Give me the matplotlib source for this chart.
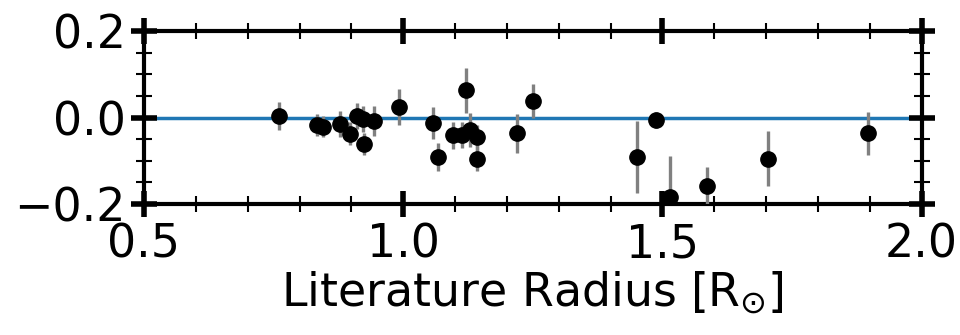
import numpy as np
import matplotlib
matplotlib.use('Agg')
import matplotlib.pyplot as plt
from matplotlib.ticker import MultipleLocator

# literature radius vs. residual
radius = np.array([0.760, 0.834, 0.845, 0.879, 0.898, 0.910, 0.922, 0.924, 0.943, 0.992,
                   1.058, 1.068, 1.097, 1.113, 1.121, 1.129, 1.143, 1.142, 1.219, 1.251,
                   1.451, 1.487, 1.515, 1.586, 1.704, 1.897])
resid = np.array([0.003, -0.017, -0.021, -0.015, -0.037, 0.004, -0.003, -0.061, -0.008, 0.024,
                  -0.012, -0.091, -0.041, -0.040, 0.063, -0.029, -0.046, -0.095, -0.036, 0.038,
                  -0.091, -0.006, -0.183, -0.159, -0.095, -0.036])
resid_err = np.array([0.032, 0.026, 0.025, 0.031, 0.026, 0.030, 0.030, 0.025, 0.035, 0.041,
                      0.037, 0.032, 0.031, 0.030, 0.052, 0.039, 0.029, 0.029, 0.045, 0.039,
                      0.083, 0.019, 0.095, 0.044, 0.064, 0.050])

fig = plt.figure(figsize=(9.6, 3.35), dpi=100)
ax = fig.add_axes([0.150, 0.391, 0.810, 0.516])

ax.axhline(0.0, color='C0', linewidth=2.5, zorder=1)
ax.errorbar(radius, resid, yerr=resid_err, fmt='o', color='black', ecolor='gray',
            elinewidth=2.4, markersize=11, capsize=0, zorder=3)

ax.set_xlim(0.5, 2.0)
ax.set_ylim(-0.2, 0.2)
ax.xaxis.set_major_locator(MultipleLocator(0.5))
ax.xaxis.set_minor_locator(MultipleLocator(0.1))
ax.yaxis.set_major_locator(MultipleLocator(0.2))
ax.yaxis.set_minor_locator(MultipleLocator(0.05))
ax.tick_params(which='both', direction='inout', top=True, right=True, labelsize=33)
ax.tick_params(which='major', length=19, width=4)
ax.tick_params(which='minor', length=12, width=1.5)
for s in ax.spines.values():
    s.set_linewidth(3)

ax.set_xlabel(r'Literature Radius [R$_{\odot}$]', fontsize=33, labelpad=2)

plt.savefig('out.png', dpi=100)
